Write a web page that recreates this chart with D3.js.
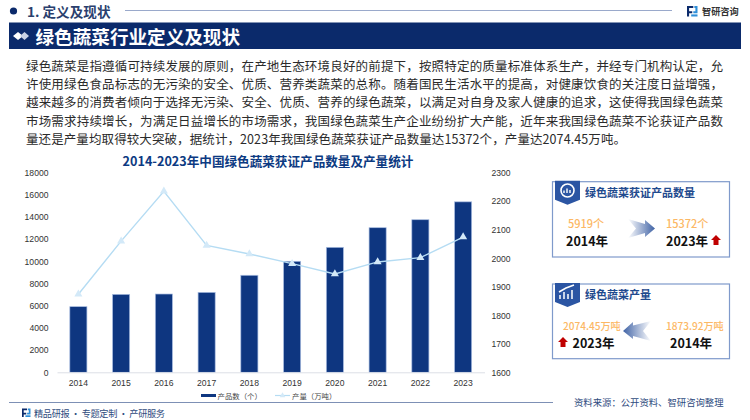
<!DOCTYPE html>
<html>
<head>
<meta charset="utf-8">
<script src="https://cdn.jsdelivr.net/npm/d3@7"></script>
<style>
  html, body { margin: 0; padding: 0; background: #fff; }
  svg { display: block; }
  text { font-family: "Noto Sans CJK SC", "Noto Sans", sans-serif; }
</style>
</head>
<body>
<div id="chart"></div>
<script>
// chart data
const years = ["2014", "2015", "2016", "2017", "2018", "2019", "2020", "2021", "2022", "2023"];
const productCount = [5919, 7030, 7060, 7210, 8750, 10010, 11270, 13040, 13760, 15372];
const output = [1873.92, 2060, 2235, 2045, 2015, 1981, 1945, 1987, 2002, 2074.45];
const leftTicks = [0, 2000, 4000, 6000, 8000, 10000, 12000, 14000, 16000, 18000];
const rightTicks = [1600, 1700, 1800, 1900, 2000, 2100, 2200, 2300];

const bodyLines = [
  "绿色蔬菜是指遵循可持续发展的原则，在产地生态环境良好的前提下，按照特定的质量标准体系生产，并经专门机构认定，允",
  "许使用绿色食品标志的无污染的安全、优质、营养类蔬菜的总称。随着国民生活水平的提高，对健康饮食的关注度日益增强，",
  "越来越多的消费者倾向于选择无污染、安全、优质、营养的绿色蔬菜，以满足对自身及家人健康的追求，这使得我国绿色蔬菜",
  "市场需求持续增长，为满足日益增长的市场需求，我国绿色蔬菜生产企业纷纷扩大产能，近年来我国绿色蔬菜不论获证产品数",
  "量还是产量均取得较大突破，据统计，2023年我国绿色蔬菜获证产品数量达15372个，产量达2074.45万吨。"
];

const navy = "#0b2a6b";
const barBlue = "#0e3680";
const lineBlue = "#b5dcf3";
const orange = "#fcb865";
const titleBlue = "#1f4a8e";

const width = 750;
const height = 420;

const svg = d3.select("#chart").append("svg")
  .attr("width", width)
  .attr("height", height);

const defs = svg.append("defs");

// fading fill for the two big arrows in the cards
var addFade = function (id, x1, x2) {
  var g = defs.append("linearGradient").attr("id", id)
    .attr("x1", x1).attr("x2", x2).attr("y1", 0).attr("y2", 0);
  g.append("stop").attr("offset", 0).attr("stop-color", "#ffffff");
  g.append("stop").attr("offset", 1).attr("stop-color", "#3f62a5");
};
addFade("fadeRight", 0, 1);
addFade("fadeLeft", 1, 0);

// small helper so the text calls stay short
var label = function (x, y, str, size, color, weight, anchor) {
  return svg.append("text")
    .attr("x", x)
    .attr("y", y)
    .attr("dominant-baseline", "central")
    .attr("text-anchor", anchor || "start")
    .attr("font-size", size)
    .attr("font-weight", weight || 400)
    .attr("fill", color)
    .text(str);
};

// brand mark, drawn twice
var drawLogo = function (x, y, s) {
  var g = svg.append("g").attr("transform", "translate(" + x + "," + y + ") scale(" + s + ")");
  g.append("path").attr("d", "M0 0H6V2H2V5H5V7H2V10H0Z").attr("fill", navy);
  g.append("path").attr("d", "M7 0H10V7H6V5H8V2H7Z").attr("fill", "#2f8fd8");
  g.append("path").attr("d", "M4 8H10V10H4Z").attr("fill", "#2f8fd8");
};

// page header
svg.append("circle").attr("cx", 13.5).attr("cy", 11).attr("r", 3.6).attr("fill", navy);
label(27, 11, "1. 定义及现状", 13.6, "#2a3f6e", 700);
svg.append("line").attr("x1", 125).attr("x2", 672).attr("y1", 10.5).attr("y2", 10.5)
  .attr("stroke", "#9aa9cb").attr("stroke-width", 1.2);
drawLogo(687, 6, 1.05);
label(702, 10.5, "智研咨询", 9.2, "#333333", 700);

svg.append("rect").attr("x", 9).attr("y", 22.5).attr("width", 732).attr("height", 26.5).attr("fill", navy);
svg.append("path").attr("d", "M13 36L18 32L23 36L18 40Z").attr("fill", "#ffffff");
svg.append("path").attr("d", "M20 36L24.5 32L29 36L24.5 40Z").attr("fill", "#c9d2e6");
label(35.5, 35.5, "绿色蔬菜行业定义及现状", 18.6, "#ffffff", 700);

// intro paragraph, the last line is shorter than the rest
bodyLines.forEach(function (line, i) {
  var t = label(26, 65 + i * 18.45, line, 12.5, "#2b2b2b");
  t.attr("textLength", i < bodyLines.length - 1 ? 697 : 600).attr("lengthAdjust", "spacing");
});

// chart
label(268, 160, "2014-2023年中国绿色蔬菜获证产品数量及产量统计", 12.6, "#0c3a82", 700, "middle");

const x = d3.scaleBand()
  .domain(years)
  .range([57, 484.5])
  .paddingInner(0.6)
  .paddingOuter(0.3);

const yLeft = d3.scaleLinear().domain([0, 18000]).range([372.3, 172.7]);
const yRight = d3.scaleLinear().domain([1600, 2300]).range([372.3, 172.7]);

svg.append("g")
  .selectAll("rect")
  .data(years)
  .enter()
  .append("rect")
  .attr("x", function (d) { return x(d); })
  .attr("y", function (d, i) { return yLeft(productCount[i]); })
  .attr("width", x.bandwidth())
  .attr("height", function (d, i) { return yLeft(0) - yLeft(productCount[i]); })
  .attr("fill", barBlue)
  .attr("stroke", "#a9bde0")
  .attr("stroke-width", 0.7);

const xMid = function (d) { return x(d) + x.bandwidth() / 2; };

const line = d3.line()
  .x(function (d, i) { return xMid(years[i]); })
  .y(function (d) { return yRight(d); });

svg.append("path")
  .datum(output)
  .attr("fill", "none")
  .attr("stroke", lineBlue)
  .attr("stroke-width", 1.4)
  .attr("d", line);

const triangle = d3.symbol().type(d3.symbolTriangle).size(28);

svg.append("g")
  .selectAll("path")
  .data(output)
  .enter()
  .append("path")
  .attr("d", triangle)
  .attr("fill", "#d3e9f8")
  .attr("transform", function (d, i) {
    return "translate(" + xMid(years[i]) + "," + yRight(d) + ")";
  });

// axes
var styleAxis = function (g) {
  g.selectAll("text")
    .attr("font-size", 8.6)
    .attr("fill", "#333333")
    .style("font-family", '"Liberation Sans", "Noto Sans", sans-serif');
  g.select(".domain").attr("stroke", "#dcdfe6");
};

svg.append("g")
  .attr("transform", "translate(57,0)")
  .call(d3.axisLeft(yLeft).tickValues(leftTicks).tickSize(0).tickPadding(8.5).tickFormat(d3.format("d")))
  .call(styleAxis)
  .call(function (g) { g.select(".domain").remove(); });

svg.append("g")
  .attr("transform", "translate(484.5,0)")
  .call(d3.axisRight(yRight).tickValues(rightTicks).tickSize(0).tickPadding(7).tickFormat(d3.format("d")))
  .call(styleAxis)
  .call(function (g) { g.select(".domain").remove(); });

svg.append("g")
  .attr("transform", "translate(0,372.3)")
  .call(d3.axisBottom(x).tickSize(0).tickPadding(8))
  .call(styleAxis);

// legend
svg.append("rect").attr("x", 201).attr("y", 394).attr("width", 15).attr("height", 3).attr("fill", barBlue);
label(217.5, 395.5, "产品数（个）", 7.4, "#444444");
svg.append("line").attr("x1", 275).attr("x2", 290).attr("y1", 395.5).attr("y2", 395.5)
  .attr("stroke", lineBlue).attr("stroke-width", 1.2);
svg.append("path").attr("d", d3.symbol().type(d3.symbolTriangle).size(14))
  .attr("fill", "#d3e9f8").attr("transform", "translate(282.5,395.5)");
label(292, 395.5, "产量（万吨）", 7.4, "#444444");

// footer
svg.append("line").attr("x1", 9).attr("x2", 553).attr("y1", 402.5).attr("y2", 402.5)
  .attr("stroke", "#7d90b5").attr("stroke-width", 1.1);
drawLogo(22, 408.5, 0.85);
label(34, 413, "精品研报 · 专题定制 · 产研服务", 9.2, "#2f4c80")
  .attr("textLength", 131).attr("lengthAdjust", "spacing");
label(574, 402, "资料来源：公开资料、智研咨询整理", 9.35, "#2f4c80");

// the two cards on the right
var drawCard = function (top, bottom, title) {
  svg.append("rect")
    .attr("x", 552.5).attr("y", top)
    .attr("width", 177).attr("height", bottom - top)
    .attr("fill", "#ffffff").attr("stroke", "#7f9acb").attr("stroke-width", 1.2);
  svg.append("path")
    .attr("d", "M555 " + (top - 1) + "H580V" + (top + 18) + "L567.5 " + (top + 23) + "L555 " + (top + 18) + "Z")
    .attr("fill", "#2b55a3");
  label(585, top + 10, title, 11, titleBlue, 700);
};

var upArrow = function (x0, y0) {
  svg.append("path")
    .attr("d", "M" + x0 + " " + (y0 + 5) + "L" + (x0 + 5) + " " + y0 + "L" + (x0 + 10) + " " + (y0 + 5)
      + "H" + (x0 + 7.5) + "V" + (y0 + 10) + "H" + (x0 + 2.5) + "V" + (y0 + 5) + "Z")
    .attr("fill", "#c00000");
};

drawCard(181.7, 257, "绿色蔬菜获证产品数量");
svg.append("circle").attr("cx", 567.5).attr("cy", 190.5).attr("r", 6.5)
  .attr("fill", "none").attr("stroke", "#ffffff").attr("stroke-width", 1.6);
svg.append("path").attr("d", "M564 193V190.5M567 193V188.5M570 193V190").attr("stroke", "#ffffff").attr("stroke-width", 1.4);

label(568, 223, "5919个", 11, orange, 500);
label(566, 240, "2014年", 12.5, "#111111", 700);
svg.append("path").attr("d", "M628 219L645 224V220L655 228.5L645 237V233L628 238L636 228.5Z").attr("fill", "url(#fadeRight)");
label(666, 223, "15372个", 11, orange, 500);
label(666, 240, "2023年", 12.5, "#111111", 700);
upArrow(711, 235);

drawCard(284, 358.7, "绿色蔬菜产量");
svg.append("path").attr("d", "M560 299V295M564 299V292M568 299V294M572 299V290M559 292L566 288L574 285")
  .attr("fill", "none").attr("stroke", "#ffffff").attr("stroke-width", 1.5);

label(563, 325.7, "2074.45万吨", 10.1, orange, 500);
label(666, 325.7, "1873.92万吨", 10.1, orange, 500);
upArrow(558, 337);
label(572.5, 342, "2023年", 12.5, "#111111", 700);
label(670, 342, "2014年", 12.5, "#111111", 700);
svg.append("path").attr("d", "M651 321L633 325.5V322L623 331L633 339V336L651 341L643 331Z").attr("fill", "url(#fadeLeft)");
</script>
</body>
</html>
